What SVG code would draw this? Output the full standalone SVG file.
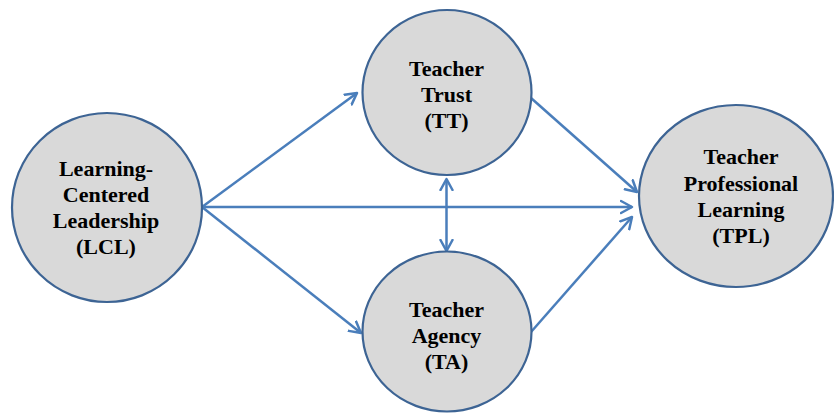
<svg xmlns="http://www.w3.org/2000/svg" width="834" height="413" viewBox="0 0 834 413">
<style>
.node{fill:#d9d9d9;stroke:#3d6494;stroke-width:2.2}
.lbl{font-family:"Liberation Serif","Times New Roman",serif;font-weight:bold;font-size:22px;fill:#000;text-anchor:middle}
.conn{stroke:#4a7ebb;stroke-width:2.5;fill:none}
</style>
<defs>
<marker id="arr" markerUnits="userSpaceOnUse" markerWidth="16" markerHeight="16" refX="12" refY="7" orient="auto-start-reverse" viewBox="0 0 16 14">
<path d="M1,1 L12,7 L1,13" fill="none" stroke="#4a7ebb" stroke-width="2.5" stroke-linecap="round" stroke-linejoin="round"/>
</marker>
</defs>
<rect width="834" height="413" fill="#fff"/>
<g id="connectors">
<line class="conn" x1="202" y1="207" x2="357" y2="93" marker-end="url(#arr)"/>
<line class="conn" x1="202" y1="207" x2="361" y2="333" marker-end="url(#arr)"/>
<line class="conn" x1="202" y1="207" x2="632" y2="207" marker-end="url(#arr)"/>
<line class="conn" x1="531" y1="98" x2="637" y2="192" marker-end="url(#arr)"/>
<line class="conn" x1="531" y1="332" x2="632" y2="217" marker-end="url(#arr)"/>
<line class="conn" x1="446.5" y1="179" x2="446.5" y2="251" marker-start="url(#arr)" marker-end="url(#arr)"/>
</g>
<g id="LCL">
<ellipse class="node" cx="107" cy="207.5" rx="95" ry="94.5"/>
<text class="lbl" x="106" y="176">Learning-</text>
<text class="lbl" x="106" y="202">Centered</text>
<text class="lbl" x="106" y="228">Leadership</text>
<text class="lbl" x="106" y="254">(LCL)</text>
</g>
<g id="TT">
<ellipse class="node" cx="447" cy="92.5" rx="84.5" ry="82.5"/>
<text class="lbl" x="446.5" y="76">Teacher</text>
<text class="lbl" x="446.5" y="102">Trust</text>
<text class="lbl" x="446.5" y="128">(TT)</text>
</g>
<g id="TA">
<ellipse class="node" cx="447" cy="331.5" rx="84.5" ry="80"/>
<text class="lbl" x="446.5" y="317">Teacher</text>
<text class="lbl" x="446.5" y="343">Agency</text>
<text class="lbl" x="446.5" y="369">(TA)</text>
</g>
<g id="TPL">
<ellipse class="node" cx="736" cy="196" rx="97" ry="91"/>
<text class="lbl" x="741" y="164">Teacher</text>
<text class="lbl" x="741" y="191">Professional</text>
<text class="lbl" x="741" y="217">Learning</text>
<text class="lbl" x="741" y="243">(TPL)</text>
</g>
</svg>
